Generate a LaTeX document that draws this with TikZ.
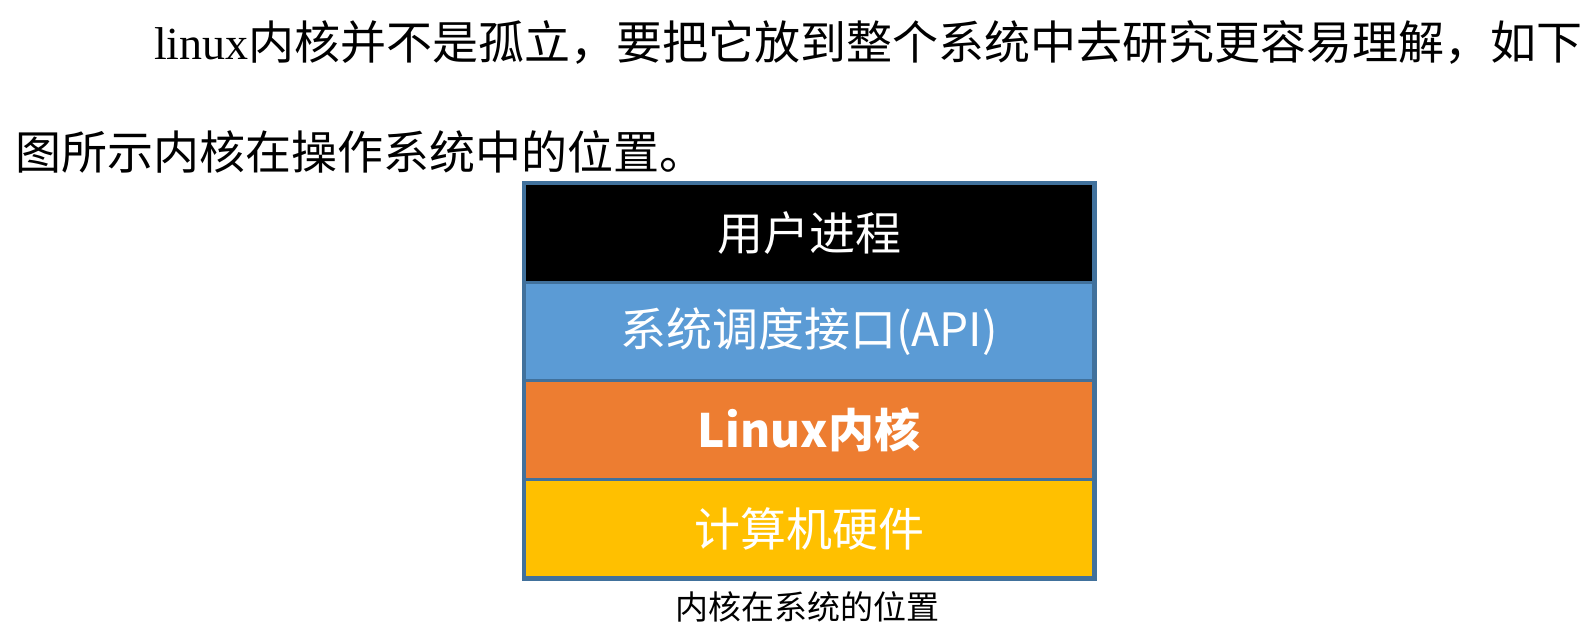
\documentclass[tikz,border=0pt]{standalone}
\usepackage{fontspec}
\setmainfont{Liberation Serif}
\newfontfamily\cjk{Noto Sans CJK SC}
\definecolor{bordc}{HTML}{41719C}
\definecolor{cblue}{HTML}{5B9BD5}
\definecolor{corange}{HTML}{ED7D31}
\definecolor{cyellow}{HTML}{FFC000}
\begin{document}
\begin{tikzpicture}[x=1pt,y=-1pt,
  cell/.style={draw=bordc, line width=3pt, minimum width=569pt, minimum height=98.6pt,
    inner sep=0pt, anchor=north west, text=white, font=\cjk\fontsize{46}{46}\selectfont},
  body/.style={anchor=base west, inner sep=0pt, font=\fontsize{46}{46}\selectfont}]
\useasboundingbox (0,0) rectangle (1586,626);
\fill[white] (0,0) rectangle (1586,626);
\node[body] (l1) at (154,59.5) {linux{\cjk 内核并不是孤立，要把它放到整个系统中去研究更容易理解，如下}};
\node[body] (l2) at (15,169.5) {\cjk 图所示内核在操作系统中的位置。};
\node[cell, fill=black] (c1) at (523,182) {用户进程};
\node[cell, fill=cblue] (c2) at (523,280.6) {系统调度接口(API)};
\node[cell, fill=corange, font=\cjk\bfseries\fontsize{46}{46}\selectfont] (c3) at (523,379.2) {Linux内核};
\node[cell, fill=cyellow] (c4) at (523,477.8) {计算机硬件};
\draw[bordc, line width=3pt] (c1.north west) rectangle (c4.south east);
\node[inner sep=0pt, font=\cjk\fontsize{33}{33}\selectfont] (cap) at (807,607) {内核在系统的位置};
\end{tikzpicture}
\end{document}
